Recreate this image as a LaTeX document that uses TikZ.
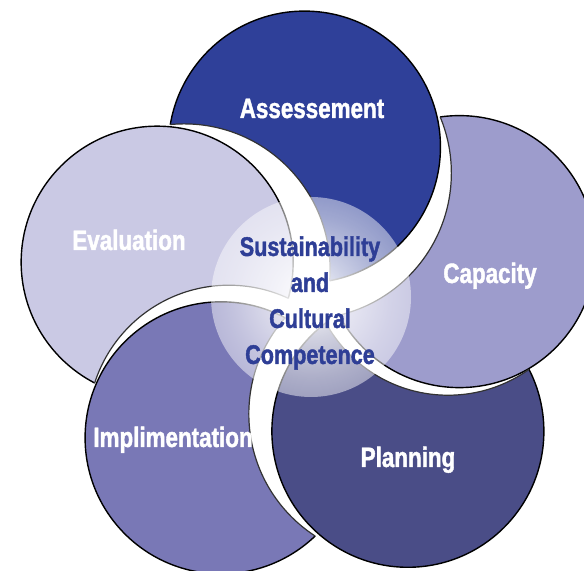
\documentclass[tikz,border=0pt]{standalone}
\usepackage{fontspec}
\setmainfont{Liberation Sans}[FakeStretch=0.8, BoldFeatures={FakeBold=1.5}]
\usetikzlibrary{calc,fadings}

\definecolor{assessblue}{RGB}{47,64,153}
\definecolor{capacityblue}{RGB}{157,156,204}
\definecolor{planningblue}{RGB}{74,77,135}
\definecolor{implblue}{RGB}{121,120,182}
\definecolor{evalblue}{RGB}{202,201,228}
\definecolor{coreblue}{RGB}{46,62,150}

\pgfdeclareradialshading{glowshade}{\pgfpointorigin}{color(0bp)=(pgftransparent!0); color(10bp)=(pgftransparent!25); color(20bp)=(pgftransparent!45); color(30bp)=(pgftransparent!60); color(40bp)=(pgftransparent!70); color(47bp)=(pgftransparent!75); color(50bp)=(pgftransparent!100)}
\pgfdeclarefading{glow}{\pgfuseshading{glowshade}}

\tikzset{
  petal/.style={draw=black, line width=0.7pt},
  cutedge/.style={draw=black!80, line width=0.6pt},
  petallabel/.style={text=white, anchor=base, font=\bfseries\fontsize{14}{16}\selectfont},
  core/.style={text=coreblue, align=center, inner sep=0pt, font=\bfseries\fontsize{13.5}{18}\selectfont}
}

\begin{document}
\begin{tikzpicture}[x=0.5pt,y=0.5pt]
  \useasboundingbox (-310,-265) rectangle (274,306);
  % each petal is cut by the white crescent of the petal lying over it
  \foreach \ang/\col/\over/\wd/\we in {92/assessblue/164/28/10, 20/capacityblue/92/26/10,
      -52/planningblue/20/12/3.5, -124/implblue/-52/22/9.5, 164/evalblue/-124/14/5} {
    \coordinate (c) at (\ang:159);
    \coordinate (o) at (\over:159);
    \coordinate (w) at (\over:159-\wd);
    \begin{scope}[even odd rule]
      \clip (-400,-400) rectangle (400,400) (o) circle (136);
      \begin{scope}[even odd rule]
        \clip (-400,-400) rectangle (400,400) (w) circle (136+\we);
        \fill[\col] (c) circle (136);
        \draw[petal] (c) circle (136);
      \end{scope}
      \clip (c) circle (136);
      \draw[cutedge] (w) circle (136+\we);
    \end{scope}
  }
  % glow in the middle
  \fill[white, path fading=glow] (1,9) circle (100);
  % labels
  \node[petallabel] (assess) at (2,188) {Assessement};
  \node[petallabel] (capacity) at (180,23) {Capacity};
  \node[petallabel] (planning) at (98,-161) {Planning};
  \node[petallabel] (impl) at (-137,-141) {Implimentation};
  \node[petallabel] (eval) at (-181,56) {Evaluation};
  \node[core] (core) at (0,3) {Sustainability\\and\\Cultural\\Competence};
\end{tikzpicture}
\end{document}
